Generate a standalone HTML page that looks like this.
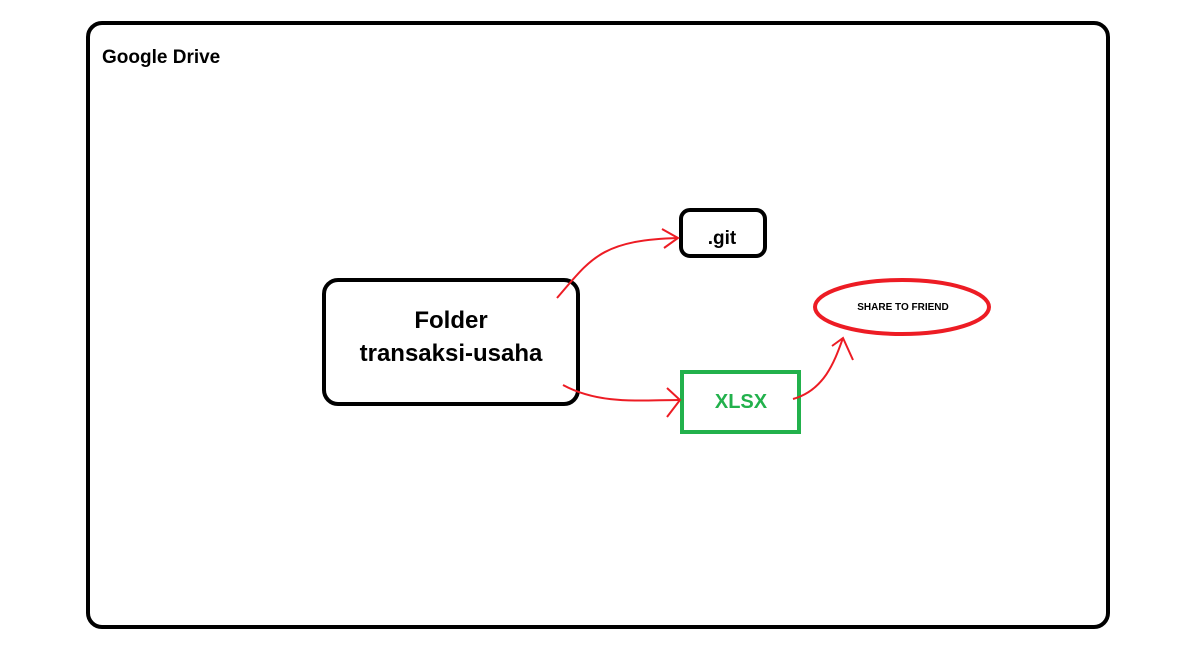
<!DOCTYPE html>
<html><head><style>
body{margin:0;width:1201px;height:650px;background:#fff;overflow:hidden;font-family:"Liberation Sans",sans-serif}
</style></head><body>
<svg width="1201" height="650" xmlns="http://www.w3.org/2000/svg">
<rect x="88" y="23" width="1020" height="604" rx="14" fill="none" stroke="#000" stroke-width="4"/>
<text x="102" y="63" font-size="19" font-weight="bold" font-family="Liberation Sans">Google Drive</text>
<rect x="324" y="280" width="254" height="124" rx="14" fill="none" stroke="#000" stroke-width="4"/>
<text x="451" y="328" font-size="24" font-weight="bold" text-anchor="middle">Folder</text>
<text x="451" y="361" font-size="24" font-weight="bold" text-anchor="middle">transaksi-usaha</text>
<rect x="681" y="210" width="84" height="46" rx="9" fill="none" stroke="#000" stroke-width="4"/>
<text x="722" y="244" font-size="19" font-weight="bold" text-anchor="middle">.git</text>
<rect x="682" y="372" width="117" height="60" fill="none" stroke="#22b14c" stroke-width="4"/>
<text x="741" y="408" font-size="20" font-weight="bold" fill="#22b14c" text-anchor="middle">XLSX</text>
<ellipse cx="902" cy="307" rx="87" ry="27" fill="none" stroke="#ed1c24" stroke-width="4"/>
<text x="903" y="310" font-size="10" font-weight="bold" text-anchor="middle">SHARE TO FRIEND</text>
<g fill="none" stroke="#ed1c24" stroke-width="2">
<path d="M557 298 C590 260 600 240 678 238"/>
<path d="M662 229 L678 238 L664 248"/>
<path d="M563 385 C600 405 640 400 680 400"/>
<path d="M667 388 L680 400 L667 417"/>
<path d="M793 399 C825 390 835 360 843 338"/>
<path d="M832 346 L843 338 L853 360"/>
</g>
</svg>
</body></html>
